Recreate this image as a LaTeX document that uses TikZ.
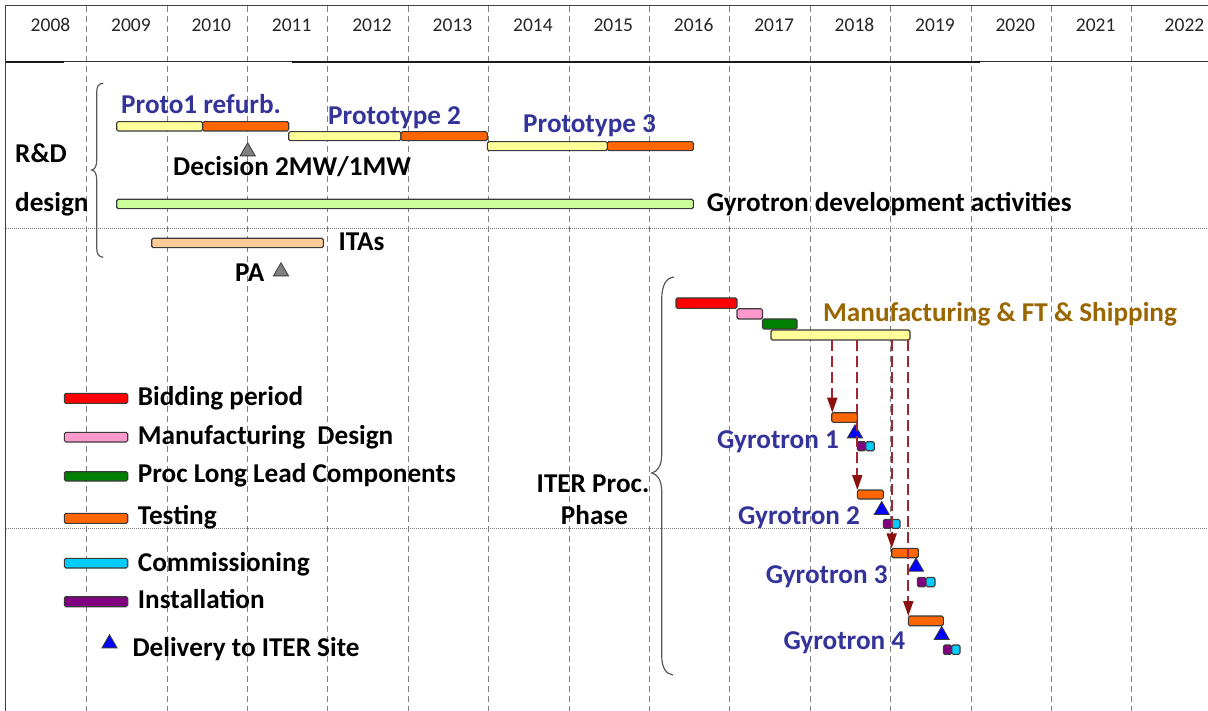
\documentclass[tikz,border=0pt]{standalone}
\usepackage{fontspec}
\setmainfont{Carlito}
\usetikzlibrary{shapes.geometric,arrows.meta}
\definecolor{cRed}{HTML}{FF0000}
\definecolor{cPink}{HTML}{FF99CC}
\definecolor{cGreen}{HTML}{008000}
\definecolor{cOrange}{HTML}{FF6600}
\definecolor{cCyan}{HTML}{00CCFF}
\definecolor{cPurple}{HTML}{800080}
\definecolor{cYellow}{HTML}{FFFF99}
\definecolor{cLime}{HTML}{CCFF99}
\definecolor{cPeach}{HTML}{FFCC99}
\definecolor{cGray}{HTML}{808080}
\definecolor{cBlue}{HTML}{0000FF}
\definecolor{cTxtBlue}{HTML}{333399}
\definecolor{cTxtBrown}{HTML}{996600}
\definecolor{cDash}{HTML}{A0282A}
\definecolor{cHead}{HTML}{8B1010}
\definecolor{cOutline}{HTML}{3A3A3A}
\newcommand\lblfont{\fontsize{27.2}{31}\selectfont\bfseries}
\newcommand\yrfont{\fontsize{19.5}{22}\selectfont}
\newcommand\gbar[6]{\node[barbox, fill=#6, minimum width={(#4-#2)*1pt}, minimum height={(#5-#3)*1pt}] (#1) at ({(#2+#4)/2},{(#3+#5)/2}) {};}
\tikzset{
  barbox/.style={draw=cOutline, line width=1.1pt, rounded corners=1.5pt, inner sep=0pt, outer sep=0pt},
  gridv/.style={draw=cGray, line width=0.9pt, dash pattern=on 6pt off 4pt},
  gridh/.style={draw=cGray, line width=0.9pt, dash pattern=on 1pt off 1pt},
  yr/.style={font=\yrfont, text=black!85, inner sep=0pt},
  lbl/.style={font=\lblfont, text=black, inner sep=0pt, anchor=base west},
  blbl/.style={lbl, text=cTxtBlue},
  tri/.style={regular polygon, regular polygon sides=3, minimum size=17.5pt, inner sep=0pt, draw=cOutline, line width=0.8pt},
  brace/.style={draw=black!65, line width=1.2pt},
  arr/.style={draw=cDash, line width=1.8pt, dash pattern=on 11pt off 5pt, -{Triangle[length=15pt,width=10pt,fill=cHead,color=cHead]}}
}
\begin{document}
\begin{tikzpicture}[x=1pt,y=-1pt]
\useasboundingbox (0,0) rectangle (1208,711);
\fill[white] (0,0) rectangle (1208,711);
% grid
\foreach \k in {0,...,13} \draw[gridv] ({86.7+80.4*\k},6) -- ({86.7+80.4*\k},711);
\draw[gridh] (6,228.5) -- (1208,228.5);
\draw[gridh] (6,528.5) -- (1208,528.5);
% frame
\draw[draw=black!75, line width=1.3pt] (1208,5.5) -- (5.7,5.5) -- (5.7,711);
\draw[draw=black!80, line width=1pt] (5.7,61.7) -- (1208,61.7);
\draw[draw=black!90, line width=2pt] (5.7,61.7) -- (64,61.7);
\draw[draw=black!90, line width=1.8pt] (292,61.7) -- (980,61.7);
% years
\foreach \y [count=\i from 0] in {2008,...,2021} \node[yr] (y\y) at ({50.5+80.4*\i},25) {\y};
\node[yr] (y2022) at (1184.5,25) {2022};
% R&D bars
\gbar{p1a}{116.7}{121.7}{202.7}{131}{cYellow}
\gbar{p1b}{202.7}{121.7}{288.7}{131}{cOrange}
\gbar{p2a}{288.7}{131.7}{401}{140.7}{cYellow}
\gbar{p2b}{401}{131.7}{487.3}{140.7}{cOrange}
\gbar{p3a}{487.3}{141.7}{607.3}{150.7}{cYellow}
\gbar{p3b}{607.3}{141.7}{693.3}{150.7}{cOrange}
\gbar{gda}{116.7}{199.3}{693.3}{208.7}{cLime}
\gbar{ita}{151.7}{238.3}{323.3}{247.7}{cPeach}
\node[blbl] (tp1) at (121,113.3) {Proto1 refurb.};
\node[blbl] (tp2) at (328,124.3) {Prototype 2};
\node[blbl] (tp3) at (523,132.7) {Prototype 3};
\node[tri, fill=cGray] (dec) at (247.7,151.5) {};
\node[lbl] (tdec) at (173,176) {Decision 2MW/1MW};
\node[lbl] (trd) at (15,162.7) {R\&D};
\node[lbl] (tdes) at (15,211.7) {design};
\node[lbl] (tgda) at (706.7,211.7) {Gyrotron development activities};
\node[lbl] (tita) at (338.3,250.7) {ITAs};
\node[lbl] (tpa) at (235,281.7) {PA};
\node[tri, fill=cGray] (pa) at (281,271.5) {};
\draw[brace] (103.3,83.3) .. controls (99,83.5) and (96.7,86) .. (96.7,92) -- (96.7,160) .. controls (96.7,166) and (95,169.5) .. (91.7,170) .. controls (95,170.5) and (96.7,174) .. (96.7,180) -- (96.7,248) .. controls (96.7,254) and (99,257) .. (103.3,257.3);
% ITER phase
\draw[brace] (674,277) .. controls (666,278) and (661.7,285) .. (661.7,300) -- (661.7,455) .. controls (661.7,466) and (657,472) .. (651.7,473) .. controls (657,474) and (661.7,480) .. (661.7,491) -- (661.7,655) .. controls (661.7,668) and (666,674) .. (673,675);
\node[lbl, anchor=base] (titer) at (593,492.7) {ITER Proc.};
\node[lbl, anchor=base] (tphase) at (594.5,524) {Phase};
\gbar{bid}{676}{298}{737}{308.4}{cRed}
\gbar{mdes}{737}{308.8}{762.5}{319}{cPink}
\gbar{plc}{762.5}{319}{797}{329}{cGreen}
\gbar{mfs}{771}{330}{910}{340}{cYellow}
\node[lbl, text=cTxtBrown] (tmfs) at (823,321.4) {Manufacturing \& FT \& Shipping};
% gyrotrons
\gbar{g1t}{831.7}{412.7}{857.3}{422.3}{cOrange}
\gbar{g1i}{857.3}{441.7}{865.7}{450.7}{cPurple}
\gbar{g1c}{865.7}{441.7}{874.3}{450.7}{cCyan}
\node[tri, fill=cBlue] (g1d) at (855,433.5) {};
\node[blbl] (tg1) at (717,448.3) {Gyrotron 1};
\gbar{g2t}{857.3}{490}{883.3}{499}{cOrange}
\gbar{g2i}{883.3}{519.3}{891.7}{528.3}{cPurple}
\gbar{g2c}{891.7}{519.3}{900}{528.3}{cCyan}
\node[tri, fill=cBlue] (g2d) at (881.7,510.2) {};
\node[blbl] (tg2) at (738,524.3) {Gyrotron 2};
\gbar{g3t}{891.7}{548.3}{918.3}{557.7}{cOrange}
\gbar{g3i}{917.3}{577.3}{926}{586.7}{cPurple}
\gbar{g3c}{926}{577.3}{935}{586.7}{cCyan}
\node[tri, fill=cBlue] (g3d) at (916,566.8) {};
\node[blbl] (tg3) at (765.7,583.3) {Gyrotron 3};
\gbar{g4t}{908.3}{616}{943.3}{625.7}{cOrange}
\gbar{g4i}{943.3}{645}{951.7}{654.3}{cPurple}
\gbar{g4c}{951.7}{645}{960}{654.3}{cCyan}
\node[tri, fill=cBlue] (g4d) at (941.7,635.2) {};
\node[blbl] (tg4) at (783.3,649.3) {Gyrotron 4};
\coordinate (a1) at (832.3,340);
\coordinate (a2) at (857.3,340);
\coordinate (a3) at (891.7,340);
\coordinate (a4) at (908.3,340);
\draw[arr] (a1) -- (a1 |- g1t.north);
\draw[arr] (a2) -- (a2 |- g2t.north);
\draw[arr] (a3) -- (a3 |- g3t.north);
\draw[arr] (a4) -- (a4 |- g4t.north);
% legend
\gbar{lb1}{64.3}{393.3}{127.7}{403.3}{cRed}
\gbar{lb2}{64.3}{432.3}{127.7}{442}{cPink}
\gbar{lb3}{64.3}{471.7}{127.7}{481}{cGreen}
\gbar{lb4}{64.3}{513.3}{127.7}{523.3}{cOrange}
\gbar{lb5}{64.3}{558.3}{127.7}{568}{cCyan}
\gbar{lb6}{64.3}{596.7}{127.7}{606.7}{cPurple}
\node[tri, fill=cBlue] (lb7) at (109.5,643.5) {};
\node[lbl] (tl1) at (137.7,405) {Bidding period};
\node[lbl] (tl2) at (137.7,444) {Manufacturing\ \ Design};
\node[lbl] (tl3) at (137.7,482.7) {Proc Long Lead Components};
\node[lbl] (tl4) at (137.7,524) {Testing};
\node[lbl] (tl5) at (137.7,571) {Commissioning};
\node[lbl] (tl6) at (137.7,608.3) {Installation};
\node[lbl] (tl7) at (132.3,656.7) {Delivery to ITER Site};
\end{tikzpicture}
\end{document}
